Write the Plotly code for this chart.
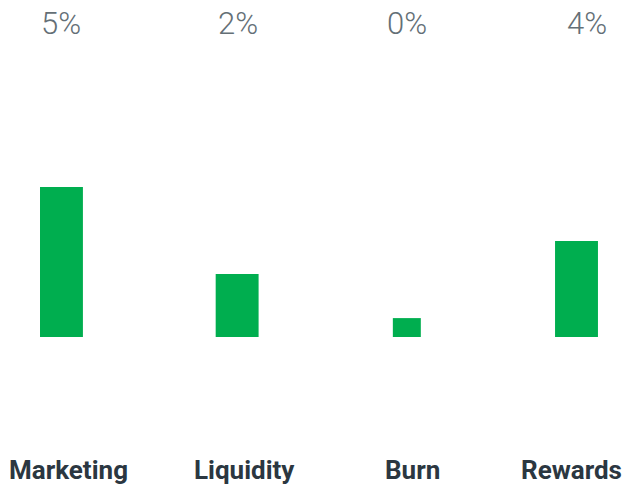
import plotly.graph_objects as go

categories = ["Marketing", "Liquidity", "Burn", "Rewards"]
bar_values = [5.0, 2.1, 0.63, 3.2]
pct_labels = ["5%", "2%", "0%", "4%"]

# layout tuning (not data)
bar_widths = [0.25, 0.25, 0.163, 0.25]
bar_nudge = [0.0, 0.0233, 0.0117, 0.0]
pct_xshift = [0, 5, 2, 10]
cat_xshift = [7, 11, 8, -5]

GREEN = "#00ae4f"
xs = list(range(len(categories)))
offsets = [-w / 2 + n for w, n in zip(bar_widths, bar_nudge)]

fig = go.Figure()
fig.add_trace(go.Bar(
    x=xs, y=bar_values, width=bar_widths, offset=offsets,
    marker=dict(color=GREEN, line=dict(width=0)),
    hoverinfo="skip",
))

for i, (lab, cat) in enumerate(zip(pct_labels, categories)):
    fig.add_annotation(x=xs[i], y=0.951, xref="x", yref="paper", text=lab,
                       showarrow=False, xshift=pct_xshift[i],
                       font=dict(family="Roboto", size=31, color="#646f76", weight=300),
                       xanchor="center", yanchor="middle")
    fig.add_annotation(x=xs[i], y=0.037, xref="x", yref="paper", text="<b>" + cat + "</b>",
                       showarrow=False, xshift=cat_xshift[i],
                       font=dict(family="Roboto", size=26, color="#2b3741"),
                       xanchor="center", yanchor="middle")

fig.update_layout(
    width=625, height=488,
    margin=dict(l=0, r=0, t=0, b=0),
    paper_bgcolor="white", plot_bgcolor="white",
    showlegend=False,
    xaxis=dict(range=[-0.358, 3.2825], visible=False, fixedrange=True),
    yaxis=dict(range=[-5.033, 11.233], visible=False, fixedrange=True),
)

fig.write_html("out.html", config={"displayModeBar": False},
               post_script="document.body.style.margin='0';document.body.style.overflow='hidden';")
